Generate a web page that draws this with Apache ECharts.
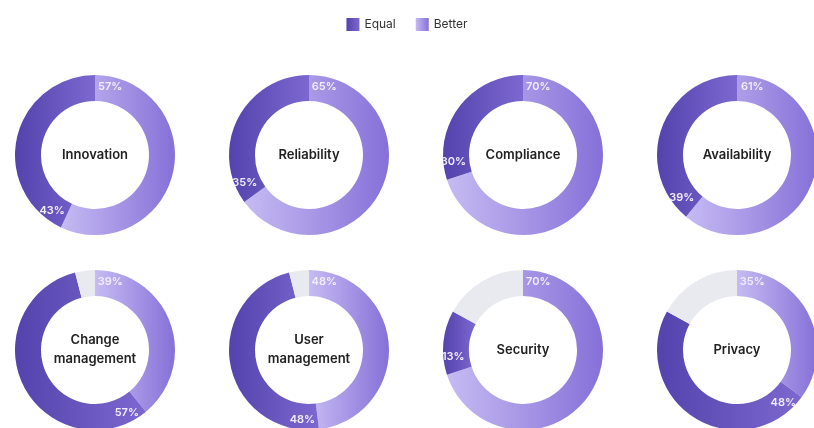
<!DOCTYPE html>
<html>
<head>
<meta charset="utf-8">
<script src="https://cdn.jsdelivr.net/npm/echarts@6/dist/echarts.min.js"></script>
<style>
html,body{margin:0;padding:0;background:#fff;}
#chart{width:814px;height:428px;}
</style>
</head>
<body>
<div id="chart"></div>
<script>
// ---- data ----
const categories = ['Innovation', 'Reliability', 'Compliance', 'Availability',
                    'Change\nmanagement', 'User\nmanagement', 'Security', 'Privacy'];
const better = [57, 65, 70, 61, 39, 48, 70, 35];
const equal  = [43, 35, 30, 39, 57, 48, 13, 48];
const rest   = [0, 0, 0, 0, 4, 4, 17, 17];
const legendNames = ['Equal', 'Better'];

// ---- styles ----
const FONT = 'Inter, "Noto Sans", sans-serif';
const betterColor = new echarts.graphic.LinearGradient(0, 0, 1, 0, [
  { offset: 0, color: '#c6bbf3' }, { offset: 1, color: '#8670d8' }]);
const equalColor = new echarts.graphic.LinearGradient(0, 0, 1, 0, [
  { offset: 0, color: '#5443ad' }, { offset: 1, color: '#7c68cf' }]);
const restColor = '#e9eaef';
const R_IN = 54, R_OUT = 80;
const LABEL_SPAN = 7;
const LINE_H = 19;

function centerOf(i) {
  const col = i % 4, row = Math.floor(i / 4);
  return [95 + col * 214, row === 0 ? 155 : 350];
}

const series = [];
const titles = [];
categories.forEach((cat, i) => {
  const c = centerOf(i);
  series.push({
    type: 'pie', center: c, radius: [R_IN, R_OUT], startAngle: 90, clockwise: true,
    silent: true, animation: false, avoidLabelOverlap: false,
    label: { show: false }, labelLine: { show: false },
    emphasis: { disabled: true },
    data: [
      { name: 'Better', value: better[i], itemStyle: { color: betterColor } },
      { name: 'Equal', value: equal[i], itemStyle: { color: equalColor } },
      { name: 'Other', value: rest[i], itemStyle: { color: restColor } }
    ]
  });
  // label overlay: a small transparent slice at the start of each segment carries the value
  const ov = [];
  [better[i], equal[i], rest[i]].forEach((v, k) => {
    if (v <= 0) return;
    const showLbl = k < 2;
    const span = Math.min(LABEL_SPAN, v);
    ov.push({ name: 'lbl' + k, value: span,
      label: { show: showLbl, formatter: v + '%' } });
    if (v - span > 0) ov.push({ name: 'pad' + k, value: v - span, label: { show: false } });
  });
  series.push({
    type: 'pie', center: c, radius: [R_IN, R_OUT], startAngle: 90, clockwise: true,
    silent: true, animation: false, avoidLabelOverlap: false, z: 5,
    itemStyle: { color: 'rgba(0,0,0,0)' },
    label: { show: false, position: 'inside', color: '#f1edff', fontSize: 11,
             fontWeight: 600, fontFamily: FONT },
    labelLine: { show: false },
    emphasis: { disabled: true },
    data: ov
  });
  const lines = cat.split('\n').length;
  titles.push({
    text: cat, left: c[0], top: c[1] - lines * LINE_H / 2, textAlign: 'center', padding: 0,
    textStyle: { fontSize: 13, fontWeight: 600, color: '#222', fontFamily: FONT, lineHeight: LINE_H }
  });
});

const chart = echarts.init(document.getElementById('chart'));
chart.setOption({
  animation: false,
  title: titles,
  legend: {
    data: legendNames, top: 13, left: 'center', icon: 'rect',
    itemWidth: 13, itemHeight: 13, itemGap: 20,
    textStyle: { fontSize: 12, color: '#333', fontFamily: FONT }
  },
  series: series
});
</script>
</body>
</html>
